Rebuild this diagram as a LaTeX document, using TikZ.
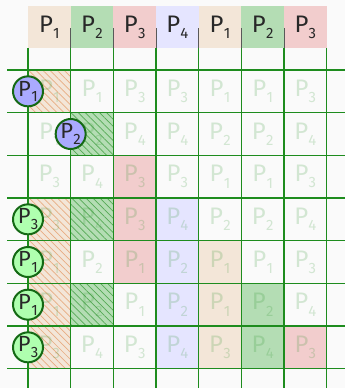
\documentclass[tikz,border=0pt]{standalone}
\usepackage{fontspec}
\setmainfont{Fira Sans}
\usetikzlibrary{patterns.meta}
\definecolor{bg}{RGB}{250,250,250}
\definecolor{tanc}{RGB}{243,230,216}
\definecolor{greenc}{RGB}{180,221,180}
\definecolor{pinkc}{RGB}{242,205,205}
\definecolor{lavc}{RGB}{229,229,255}
\definecolor{gridg}{RGB}{30,140,30}
\definecolor{darkg}{RGB}{20,105,20}
\definecolor{bluec}{RGB}{170,170,255}
\definecolor{lgreenc}{RGB}{175,255,175}
\definecolor{hatchtan}{RGB}{232,172,130}
\definecolor{hatchgreen}{RGB}{85,170,85}
\definecolor{headtxt}{RGB}{40,40,40}
\newcommand\pp[1]{P\kern0.3bp\raisebox{-0.26em}{\fontsize{15}{15}\selectfont #1}}
\tikzset{
  cellbox/.style={minimum width=42.667bp, minimum height=42.667bp, inner sep=0pt, draw=darkg, line width=1.3bp},
  tanhatch/.style={cellbox, fill=tanc, postaction={pattern={Lines[angle=-45,distance=5bp,line width=0.7bp]}, pattern color=hatchtan}},
  greenhatch/.style={cellbox, fill=greenc, postaction={pattern={Lines[angle=-45,distance=5bp,line width=0.7bp]}, pattern color=hatchgreen}},
  tanfill/.style={cellbox, fill=tanc},
  greenfill/.style={cellbox, fill=greenc},
  pinkfill/.style={cellbox, fill=pinkc},
  lavfill/.style={cellbox, fill=lavc},
  gridline/.style={draw=gridg, line width=1.2bp},
  fadedtxt/.style={text=gridg, text opacity=0.18, font=\fontsize{24}{24}\selectfont, inner sep=0pt},
  headcell/.style={minimum width=42.667bp, minimum height=42bp, inner sep=0pt, text=headtxt, font=\fontsize{24}{24}\selectfont},
  circ/.style={circle, draw=darkg, line width=2bp, minimum size=30bp, inner sep=0pt, text=headtxt, font=\fontsize{22}{22}\selectfont},
  sep/.style={draw=black!65, line width=1bp}
}
\begin{document}
\begin{tikzpicture}[x=1bp,y=-1bp]
\useasboundingbox[fill=bg] (0,0) rectangle (345,388);
% header
\foreach \col/\n [count=\i from 0] in {tanc/1,greenc/2,pinkc/3,lavc/4,tanc/1,greenc/2,pinkc/3}
  \node[headcell, fill=\col] (h\i) at ({28+42.667*(\i+0.5)},27) {\pp{\n}};
\foreach \i in {1,...,6}
  \draw[sep] ({28+42.667*\i},28) -- ({28+42.667*\i},48);
% coloured cells
\foreach \r/\c in {1/1,4/1,5/1,6/1,7/1}
  \node[tanhatch] (f-\r-\c) at ({28+42.667*(\c-0.5)},{70+42.667*(\r-0.5)}) {};
\foreach \r/\c in {2/2,4/2,6/2}
  \node[greenhatch] (f-\r-\c) at ({28+42.667*(\c-0.5)},{70+42.667*(\r-0.5)}) {};
\foreach \r/\c in {3/3,4/3,5/3,7/7}
  \node[pinkfill] (f-\r-\c) at ({28+42.667*(\c-0.5)},{70+42.667*(\r-0.5)}) {};
\foreach \r/\c in {4/4,5/4,6/4,7/4}
  \node[lavfill] (f-\r-\c) at ({28+42.667*(\c-0.5)},{70+42.667*(\r-0.5)}) {};
\foreach \r/\c in {5/5,6/5,7/5}
  \node[tanfill] (f-\r-\c) at ({28+42.667*(\c-0.5)},{70+42.667*(\r-0.5)}) {};
\foreach \r/\c in {6/6,7/6}
  \node[greenfill] (f-\r-\c) at ({28+42.667*(\c-0.5)},{70+42.667*(\r-0.5)}) {};
% grid
\foreach \k in {0,...,7}
  \draw[gridline] (7,{70+42.667*\k}) -- (345,{70+42.667*\k});
\foreach \k in {0,...,7}
  \draw[gridline] ({28+42.667*\k},48) -- ({28+42.667*\k},388);
% faded cell texts
\foreach \row [count=\r] in {{1,1,3,3,1,1,3},{1,2,4,4,2,2,4},{3,4,3,3,1,1,3},{3,4,3,4,2,2,4},{1,2,1,2,1,1,3},{1,2,1,2,1,2,4},{3,4,3,4,3,4,3}}
  \foreach \v [count=\c] in \row
    \node[fadedtxt] (t-\r-\c) at ({28+42.667*(\c-0.5)},{70+42.667*(\r-0.5)}) {\pp{\v}};
% circles
\node[circ, fill=bluec] (k1) at (28,91.33) {\pp{1}};
\node[circ, fill=bluec] (k2) at (70.67,134) {\pp{2}};
\node[circ, fill=lgreenc] (k4) at (28,219.33) {\pp{3}};
\node[circ, fill=lgreenc] (k5) at (28,262) {\pp{1}};
\node[circ, fill=lgreenc] (k6) at (28,304.67) {\pp{1}};
\node[circ, fill=lgreenc] (k7) at (28,347.33) {\pp{3}};
\end{tikzpicture}
\end{document}
